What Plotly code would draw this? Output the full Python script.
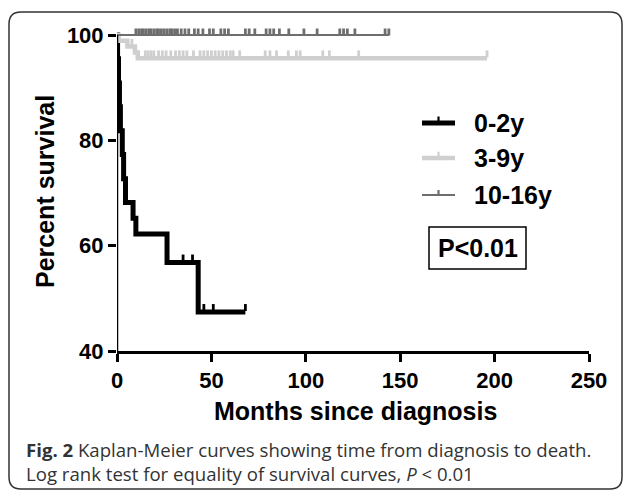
import plotly.graph_objects as go

# ---------------- data ----------------
groups = ["0-2y", "3-9y", "10-16y"]
colors = ["#000000", "#cfcfcf", "#6e6e6e"]
widths = [5, 4.5, 2]

# event (death) times in months and survival level (%) after each event
ev_t_02 = [0.3, 0.8, 1.3, 1.8, 2.8, 3.5, 4.5, 8.5, 10.0, 26.5, 43.0]
ev_s_02 = [95.5, 90.9, 86.4, 81.8, 77.3, 72.7, 68.2, 65.2, 62.2, 56.8, 47.4]
cens_02 = [35, 40, 46, 51, 68]
end_02 = 68

ev_t_39 = [0.8, 5.5, 9.5, 11.0]
ev_s_39 = [98.9, 97.8, 96.7, 95.6]
cens_39 = [7.9, 15, 16.5, 18, 19.5, 22, 24, 26, 28.5, 31, 33, 35, 37, 40.5,
           44, 46, 48, 50, 52, 54, 56, 58, 60, 61.5, 65, 78.5, 81, 84.5,
           90.7, 95, 97, 109, 112.5, 128, 196]
end_39 = 196

ev_t_1016 = []
ev_s_1016 = []
cens_1016 = [10, 11.5, 13, 14, 15.5, 17, 18, 19.5, 21, 22, 23.5, 25, 26.5, 28,
             29, 30.5, 32, 34, 36, 38, 41, 43, 45.5, 49, 51, 55, 57, 59, 68,
             70, 73, 79, 81, 83, 86, 91, 99, 106, 118, 120, 122, 126, 142, 144]
end_1016 = 144

x_ticks = [0, 50, 100, 150, 200, 250]
y_ticks = [40, 60, 80, 100]

caption_1 = "<b>Fig. 2</b> Kaplan-Meier curves showing time from diagnosis to death."
caption_2 = "Log rank test for equality of survival curves, <i>P</i> &lt; 0.01"

# ---------------- helpers ----------------
L, R, T, B = 117, 38, 22, 144
W_PX, H_PX = 627, 495
PW = W_PX - L - R
PH = H_PX - T - B
Y_LO = 40
Y_HI = 40 + PH / (316 / 60)


def px(xp):
    return (xp - L) / PW


def py(yp):
    return (H_PX - B - yp) / PH


def surv_at(t, ev_t, ev_s):
    s = 100.0
    for et, es in zip(ev_t, ev_s):
        if et <= t:
            s = es
    return s


def step_xy(ev_t, ev_s, end):
    xs, ys = [0], [100]
    for et, es in zip(ev_t, ev_s):
        xs.append(et)
        ys.append(es)
    xs.append(end)
    ys.append(ys[-1])
    return xs, ys


fig = go.Figure()
series = [
    (ev_t_02, ev_s_02, cens_02, end_02),
    (ev_t_39, ev_s_39, cens_39, end_39),
    (ev_t_1016, ev_s_1016, cens_1016, end_1016),
]
unit_px = 316 / 60
for (et, es, cens, end), col, w, name in zip(series, colors, widths, groups):
    xs, ys = step_xy(et, es, end)
    fig.add_trace(go.Scatter(x=xs, y=ys, mode="lines", line=dict(color=col, width=w, shape="hv"),
                             name=name, showlegend=False))
    off = (w / 2 + 2) / unit_px
    fig.add_trace(go.Scatter(
        x=cens, y=[surv_at(c, et, es) + off for c in cens], mode="markers",
        marker=dict(symbol="line-ns", size=5, line=dict(color=col, width=2.8)),
        showlegend=False, cliponaxis=False))

# ---------------- shapes ----------------
shapes = []
shapes.append(dict(type="line", xref="x", yref="y", x0=0, x1=0, y0=40, y1=100,
                   line=dict(color="black", width=2.5), layer="above"))
leg_y = [123, 158, 195]
for yy, col, w in zip(leg_y, colors, widths):
    shapes.append(dict(type="line", xref="paper", yref="paper", x0=px(422), x1=px(455),
                       y0=py(yy), y1=py(yy), line=dict(color=col, width=w)))
    shapes.append(dict(type="line", xref="paper", yref="paper", x0=px(438.5), x1=px(438.5),
                       y0=py(yy), y1=py(yy - w / 2 - 4), line=dict(color=col, width=2.2)))
shapes.append(dict(type="rect", xref="paper", yref="paper", x0=px(429), x1=px(526),
                   y0=py(269), y1=py(227), line=dict(color="black", width=1.5)))
x0b, x1b, y0b, y1b, r = 9, 622, 12, 489, 12
path = (f"M {px(x0b + r)},{py(y0b)} L {px(x1b - r)},{py(y0b)} Q {px(x1b)},{py(y0b)} {px(x1b)},{py(y0b + r)} "
        f"L {px(x1b)},{py(y1b - r)} Q {px(x1b)},{py(y1b)} {px(x1b - r)},{py(y1b)} "
        f"L {px(x0b + r)},{py(y1b)} Q {px(x0b)},{py(y1b)} {px(x0b)},{py(y1b - r)} "
        f"L {px(x0b)},{py(y0b + r)} Q {px(x0b)},{py(y0b)} {px(x0b + r)},{py(y0b)} Z")
shapes.append(dict(type="path", xref="paper", yref="paper", path=path,
                   line=dict(color="#333333", width=1.5)))

# ---------------- annotations ----------------
BOLD = "Liberation Sans, Arial, sans-serif"
anns = []
for yy, name in zip(leg_y, groups):
    anns.append(dict(xref="paper", yref="paper", x=px(472), y=py(yy), xanchor="left", yanchor="middle",
                     text=f"<b>{name}</b>", showarrow=False, font=dict(family=BOLD, size=25, color="black")))
anns.append(dict(xref="paper", yref="paper", x=px(477.5), y=py(248), xanchor="center", yanchor="middle",
                 text="<b>P&lt;0.01</b>", showarrow=False, font=dict(family=BOLD, size=25, color="black")))
anns.append(dict(xref="paper", yref="paper", x=px(45), y=py(192), xanchor="center", yanchor="middle",
                 textangle=-90, text="<b>Percent survival</b>", showarrow=False,
                 font=dict(family=BOLD, size=25, color="black")))
anns.append(dict(xref="paper", yref="paper", x=px(355), y=py(411), xanchor="center", yanchor="middle",
                 text="<b>Months since diagnosis</b>", showarrow=False,
                 font=dict(family=BOLD, size=25, color="black")))
CAP = "Open Sans, Noto Sans, sans-serif"
anns.append(dict(xref="paper", yref="paper", x=px(24), y=py(461.5), xanchor="left", yanchor="middle",
                 align="left", text=caption_1 + "<br>" + caption_2,
                 showarrow=False, font=dict(family=CAP, size=18.6, color="#333333")))

fig.update_layout(
    width=W_PX, height=H_PX,
    margin=dict(l=L, r=R, t=T, b=B, pad=0),
    paper_bgcolor="white", plot_bgcolor="white",
    showlegend=False,
    shapes=shapes, annotations=anns,
    xaxis=dict(range=[0, 250], tickvals=x_ticks, ticktext=[f"<b>{v}</b>" for v in x_ticks],
               showgrid=False, zeroline=False, showline=True, linecolor="black", linewidth=2.5,
               ticks="outside", ticklen=8, tickwidth=2.5, tickcolor="black",
               tickfont=dict(family=BOLD, size=22, color="black"), ticklabelstandoff=0),
    yaxis=dict(range=[Y_LO, Y_HI], tickvals=y_ticks, ticktext=[f"<b>{v}</b>" for v in y_ticks],
               showgrid=False, zeroline=False, showline=False,
               ticks="outside", ticklen=8, tickwidth=2.5, tickcolor="black",
               tickfont=dict(family=BOLD, size=22, color="black"), ticklabelstandoff=0),
)

fig.write_html("out.html", config={"displayModeBar": False},
               post_script="document.body.style.margin='0';")
